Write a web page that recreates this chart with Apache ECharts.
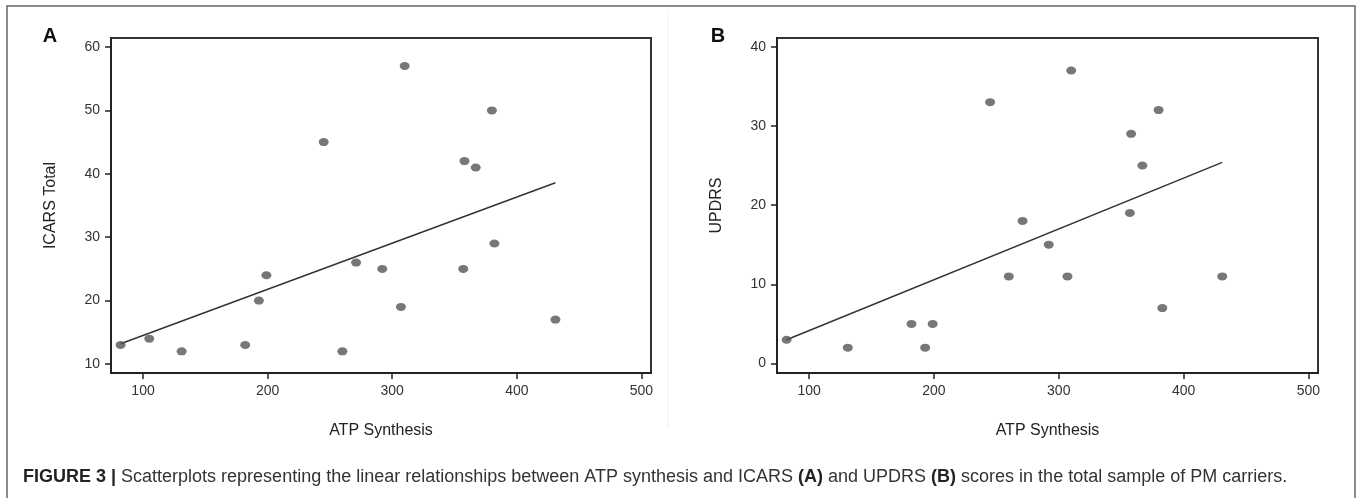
<!DOCTYPE html>
<html>
<head>
<meta charset="utf-8">
<script src="https://cdn.jsdelivr.net/npm/echarts@6/dist/echarts.min.js"></script>
<style>
html,body{margin:0;padding:0;background:#fff;}
#chart{width:1357px;height:498px;}
</style>
</head>
<body>
<div id="chart"></div>
<script>
// ---- data ----
const atpA = [82,105,131,182,193,199,245,260,271,292,307,310,357,358,367,380,382,431];
const icars = [13,14,12,13,20,24,45,12,26,25,19,57,25,42,41,50,29,17];
const atpB = [82,131,182,193,199,245,260,271,292,307,310,357,358,367,380,383,431];
const updrs = [3,2,5,2,5,33,11,18,15,11,37,19,29,25,32,7,11];
const fitA = [[82,13.2],[431,38.6]];
const fitB = [[82,3.0],[431,25.4]];
const xTicks = [100,200,300,400,500];
const yTicksA = [10,20,30,40,50,60];
const yTicksB = [0,10,20,30,40];

const ptsA = atpA.map((x,i)=>[x,icars[i]]);
const ptsB = atpB.map((x,i)=>[x,updrs[i]]);

const axisColor = '#222';
const labelFont = 'Liberation Sans, Arial, sans-serif';

function xAxisCfg(gi){
  return {
    type:'value', gridIndex:gi, min:74.3, max:507.7,
    name:'ATP Synthesis', nameLocation:'middle', nameGap:50,
    nameTextStyle:{fontFamily:labelFont, fontSize:16, color:'#222'},
    axisLine:{show:true, onZero:false, lineStyle:{color:axisColor, width:2}},
    axisTick:{show:true, inside:false, length:6, customValues:xTicks, lineStyle:{color:axisColor, width:1.5}},
    axisLabel:{customValues:xTicks, margin:11, fontFamily:labelFont, fontSize:14, color:'#333'},
    splitLine:{show:false}
  };
}
function yAxisCfg(gi,name,min,max,ticks){
  return {
    type:'value', gridIndex:gi, min:min, max:max,
    name:name, nameLocation:'middle', nameGap:52,
    nameTextStyle:{fontFamily:labelFont, fontSize:16, color:'#222'},
    axisLine:{show:true, onZero:false, lineStyle:{color:axisColor, width:2}},
    axisTick:{show:true, inside:false, length:6, customValues:ticks, lineStyle:{color:axisColor, width:1.5}},
    axisLabel:{customValues:ticks, margin:11, fontFamily:labelFont, fontSize:14, color:'#333'},
    splitLine:{show:false}
  };
}

const chart = echarts.init(document.getElementById('chart'), null, {renderer:'canvas'});
chart.setOption({
  backgroundColor:'#fff',
  animation:false,
  grid:[
    {left:111, width:540, top:38, height:335, show:true, borderColor:'#333', borderWidth:2, backgroundColor:'transparent'},
    {left:777, width:541, top:38, height:335, show:true, borderColor:'#333', borderWidth:2, backgroundColor:'transparent'}
  ],
  xAxis:[xAxisCfg(0), xAxisCfg(1)],
  yAxis:[
    yAxisCfg(0,'ICARS Total',8.58,61.42,yTicksA),
    yAxisCfg(1,'UPDRS',-1.2,41.1,yTicksB)
  ],
  series:[
    {type:'line', xAxisIndex:0, yAxisIndex:0, data:fitA, showSymbol:false, lineStyle:{color:'#333', width:1.5}, z:2},
    {type:'scatter', xAxisIndex:0, yAxisIndex:0, data:ptsA, symbol:'circle', symbolSize:[10,8], itemStyle:{color:'#555'}, z:3},
    {type:'line', xAxisIndex:1, yAxisIndex:1, data:fitB, showSymbol:false, lineStyle:{color:'#333', width:1.5}, z:2},
    {type:'scatter', xAxisIndex:1, yAxisIndex:1, data:ptsB, symbol:'circle', symbolSize:[10,8], itemStyle:{color:'#555'}, z:3}
  ],
  graphic:[
    {type:'rect', shape:{x:7, y:6, width:1348, height:520}, style:{fill:'none', stroke:'#666', lineWidth:1.5}, silent:true},
    {type:'line', shape:{x1:668, y1:10, x2:668, y2:427}, style:{stroke:'#f0f0f0', lineWidth:1}, silent:true},
    {type:'text', x:50, y:36, style:{text:'A', font:'bold 20px Liberation Sans, Arial, sans-serif', fill:'#111', align:'center', verticalAlign:'middle'}},
    {type:'text', x:718, y:36, style:{text:'B', font:'bold 20px Liberation Sans, Arial, sans-serif', fill:'#111', align:'center', verticalAlign:'middle'}},
    {type:'text', x:23, y:477, style:{
      text:'{b|FIGURE 3 |} Scatterplots representing the linear relationships between ATP synthesis and ICARS {b|(A)} and UPDRS {b|(B)} scores in the total sample of PM carriers.',
      font:'18px Liberation Sans, Arial, sans-serif', fill:'#333', verticalAlign:'middle',
      rich:{b:{fontWeight:'bold', fontSize:18, fontFamily:'Liberation Sans, Arial, sans-serif', fill:'#222'}}
    }}
  ]
});
</script>
</body>
</html>
